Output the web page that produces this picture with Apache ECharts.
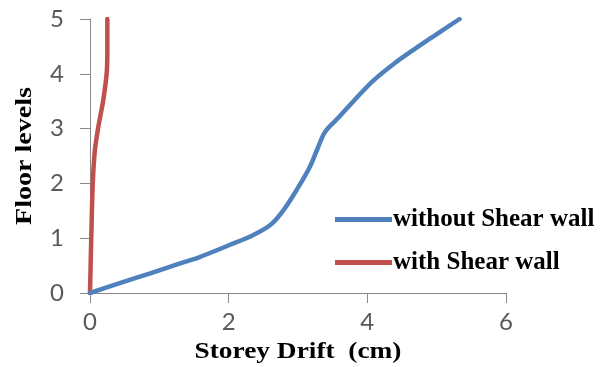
<!DOCTYPE html>
<html>
<head>
<meta charset="utf-8">
<script src="https://cdn.jsdelivr.net/npm/echarts@6/dist/echarts.min.js"></script>
<style>
  html, body { margin: 0; padding: 0; background: #fff; }
  #chart { width: 600px; height: 367px; }
</style>
</head>
<body>
<div id="chart"></div>
<script>
// Storey drift per floor level, with and without a shear wall
const seriesNames = ['without Shear wall', 'with Shear wall'];

const driftWithout = [0, 0.43, 0.87, 1.3, 1.59, 2.02, 2.31, 2.60, 2.79, 2.98, 3.17, 3.29, 3.39, 3.56, 3.80, 4.09, 4.38, 4.67, 4.95, 5.33];
const levelWithout = [0, 0.18, 0.36, 0.54, 0.66, 0.88, 1.03, 1.24, 1.51, 1.88, 2.30, 2.66, 2.94, 3.17, 3.50, 3.88, 4.18, 4.44, 4.68, 5];

const driftWith = [0, 0.02, 0.04, 0.07, 0.12, 0.19, 0.24, 0.25, 0.25];
const levelWith = [0, 1.1, 2.0, 2.6, 3.03, 3.51, 4.0, 4.42, 5];

const xTicks = [0, 2, 4, 6];
const yTicks = [0, 1, 2, 3, 4, 5];

const xTitle = 'Storey Drift  (cm)';
const yTitle = 'Floor levels';

function pairs(xs, ys) {
  return xs.map((x, i) => [x, ys[i]]);
}

const chart = echarts.init(document.getElementById('chart'), null, { renderer: 'canvas' });

const serifBold = { fontFamily: 'Liberation Serif', fontWeight: 'bold', fill: '#000' };
const axisGray = '#898989';
const labelStyle = { color: '#595959', fontFamily: 'Lato', fontSize: 24 };

chart.setOption({
  animation: false,
  backgroundColor: '#fff',
  grid: { left: 90, right: 94, top: 19, bottom: 74 },
  xAxis: {
    type: 'value',
    min: xTicks[0],
    max: xTicks[xTicks.length - 1],
    interval: xTicks[1] - xTicks[0],
    splitLine: { show: false },
    axisLine: { show: true, onZero: false, lineStyle: { color: axisGray, width: 1 } },
    axisTick: { show: true, inside: false, length: 10, lineStyle: { color: axisGray } },
    axisLabel: Object.assign({ margin: 17 }, labelStyle)
  },
  yAxis: {
    type: 'value',
    min: yTicks[0],
    max: yTicks[yTicks.length - 1],
    interval: yTicks[1] - yTicks[0],
    splitLine: { show: false },
    axisLine: { show: true, onZero: false, lineStyle: { color: axisGray, width: 1 } },
    axisTick: { show: true, inside: false, length: 10, lineStyle: { color: axisGray } },
    axisLabel: Object.assign({ margin: 26 }, labelStyle)
  },
  legend: {
    orient: 'vertical',
    left: 330,
    top: 202,
    itemWidth: 57,
    itemHeight: 8,
    itemGap: 18,
    icon: 'path://M0,0 L57,0 L57,5 L0,5 Z',
    textStyle: { fontFamily: 'Liberation Serif', fontWeight: 'bold', fontSize: 25, color: '#000', padding: [0, 0, 0, -4] },
    data: seriesNames
  },
  series: [
    {
      name: seriesNames[0],
      type: 'line',
      data: pairs(driftWithout, levelWithout),
      smooth: 0.35,
      symbol: 'none',
      lineStyle: { color: '#4f81bd', width: 4.5, cap: 'round' },
      itemStyle: { color: '#4f81bd' },
      z: 3
    },
    {
      name: seriesNames[1],
      type: 'line',
      data: pairs(driftWith, levelWith),
      smooth: 0.3,
      symbol: 'none',
      lineStyle: { color: '#c0504d', width: 4.5, cap: 'round' },
      itemStyle: { color: '#c0504d' },
      z: 2
    }
  ],
  graphic: [
    {
      type: 'text',
      x: 298,
      y: 352,
      scaleX: 1.19,
      style: Object.assign({ text: xTitle, fontSize: 23, align: 'center', verticalAlign: 'middle' }, serifBold)
    },
    {
      type: 'text',
      x: 25,
      y: 156,
      rotation: Math.PI / 2,
      scaleX: 1.22,
      style: Object.assign({ text: yTitle, fontSize: 23, align: 'center', verticalAlign: 'middle' }, serifBold)
    }
  ]
});
</script>
</body>
</html>
